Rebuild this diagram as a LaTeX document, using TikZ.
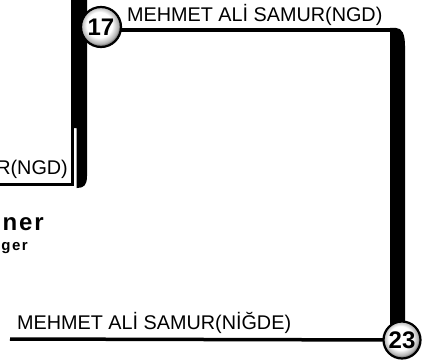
\documentclass[tikz,border=0pt]{standalone}
\usepackage{fontspec}
\setmainfont{Liberation Sans}
\usetikzlibrary{backgrounds}
\pgfdeclareradialshading{btn}{\pgfpoint{-3bp}{4bp}}{color(0bp)=(white); color(16bp)=(white); color(23bp)=(black!30); color(25bp)=(black!55); color(50bp)=(black!55)}
\begin{document}
\begin{tikzpicture}[x=1pt,y=-1pt,
  lbl/.style={font=\fontsize{19.8}{22}\selectfont, inner sep=0pt},
  thinline/.style={line width=3.5pt},
  num/.style={circle, draw=black, line width=2.2pt, inner sep=0pt, shading=btn,
    font=\bfseries\fontsize{24}{26}\selectfont}
]
\useasboundingbox (0,0) rectangle (438,361);
% stations
\node[num, minimum size=40pt] (c17) at (101,27) {17};
\node[num, minimum size=37pt] (c23) at (402,340) {23};
% named points
\coordinate (tr) at (396,30);
\coordinate (bl) at (10,339);
\coordinate (ll) at (0,184.5);
\coordinate (lc) at (72.5,184.5);
\coordinate (lt) at (72.5,128);
\begin{scope}[on background layer]
  % top line and right bar
  \draw[thinline] (c17.center |- tr) -- (tr);
  \fill (390,345) -- (390,28) -- (396,28) .. controls (402,28) and (405,34) .. (405,46) -- (405,345) -- cycle;
  % bottom line
  \draw[thinline] (bl) -- (c23.center);
  % left bar
  \fill (71,-3) -- (87,-3) -- (87,176) .. controls (87,185) and (84,188) .. (77,188) -- (76.5,188) -- (76.5,128) -- (71,128) -- cycle;
  \draw[line width=3pt] (ll) -- (lc) -- (lt);
\end{scope}
% labels
\node[lbl, anchor=base west] (t1) at (127,22) {MEHMET ALİ SAMUR(NGD)};
\node[lbl, anchor=base west] (t2) at (17,329) {MEHMET ALİ SAMUR(NİĞDE)};
\node[lbl, anchor=base east] (t3) at (68,174) {R(NGD)};
\node[inner sep=0pt, anchor=base east, font=\bfseries\fontsize{24}{26}\selectfont\addfontfeatures{LetterSpace=8}] (t4) at (44,230) {ner};
\node[inner sep=0pt, anchor=base east, font=\bfseries\fontsize{15}{17}\selectfont\addfontfeatures{LetterSpace=10}] (t5) at (28,250) {ger};
\end{tikzpicture}
\end{document}
